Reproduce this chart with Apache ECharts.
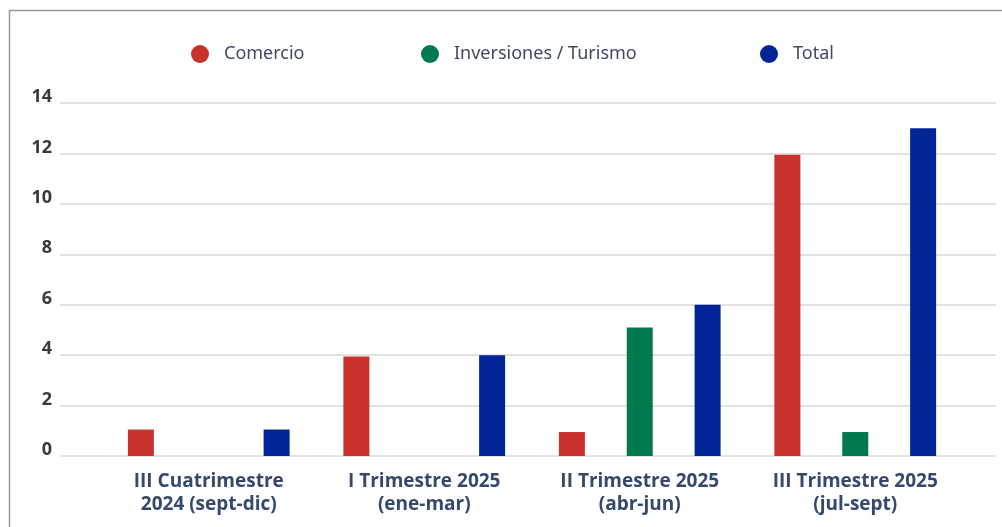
<!DOCTYPE html>
<html>
<head>
<meta charset="utf-8">
<script src="https://cdn.jsdelivr.net/npm/echarts@6/dist/echarts.min.js"></script>
<style>
html,body{margin:0;padding:0;background:#fff;}
#chart{width:1002px;height:527px;}
</style>
</head>
<body>
<div id="chart"></div>
<script>
const categories = [
  "III Cuatrimestre\n2024 (sept-dic)",
  "I Trimestre 2025\n(ene-mar)",
  "II Trimestre 2025\n(abr-jun)",
  "III Trimestre 2025\n(jul-sept)"
];
const comercio = [1.05, 3.95, 0.95, 11.95];
const inversiones = [null, null, 5.1, 0.95];
const total = [1.05, 4, 6, 13];
const yTicks = { min: 0, max: 14, interval: 2 };

const chart = echarts.init(document.getElementById('chart'));
const legendText = { color: '#3d4a6b', fontSize: 18, fontFamily: 'Noto Sans', padding: [0, 0, 0, 10] };
function legendAt(name, left) {
  return {
    data: [name], left: left, top: 40, icon: 'circle', itemWidth: 18, itemHeight: 18,
    textStyle: legendText, selectedMode: false
  };
}
chart.setOption({
  animation: false,
  backgroundColor: '#fff',
  graphic: [{
    type: 'rect', silent: true, z: 100,
    shape: { x: 9.5, y: 10.5, width: 1200, height: 700 },
    style: { fill: 'none', stroke: '#9a9a9a', lineWidth: 1.5 }
  }],
  legend: [
    legendAt('Comercio', 186),
    legendAt('Inversiones / Turismo', 416),
    legendAt('Total', 755)
  ],
  grid: [
    { left: 60, right: 6, top: 103, bottom: 71 },
    { left: 101, right: 39, top: 103, bottom: 71 }
  ],
  xAxis: [
    { gridIndex: 0, type: 'value', show: false, min: 0, max: 1 },
    {
      gridIndex: 1, type: 'category', data: categories,
      axisLine: { show: false }, axisTick: { show: false },
      axisLabel: {
        margin: 14, color: '#34496e', fontSize: 19, fontWeight: 'bold',
        fontFamily: 'Open Sans', lineHeight: 23, interval: 0
      }
    }
  ],
  yAxis: [
    {
      gridIndex: 0, type: 'value', min: yTicks.min, max: yTicks.max, interval: yTicks.interval,
      axisLine: { show: false }, axisTick: { show: false },
      splitLine: { lineStyle: { color: '#e3e3e3', width: 2 } },
      axisLabel: {
        margin: 8, color: '#3a3a3a', fontSize: 18, fontWeight: 'bold', fontFamily: 'Open Sans',
        verticalAlign: 'bottom', lineHeight: 12
      }
    },
    { gridIndex: 1, type: 'value', min: yTicks.min, max: yTicks.max, interval: yTicks.interval, show: false, splitLine: { show: false } }
  ],
  series: [
    { name: 'Comercio', type: 'bar', xAxisIndex: 1, yAxisIndex: 1, data: comercio, barWidth: 26, barGap: '161%', itemStyle: { color: '#c9312d' } },
    { name: 'Inversiones / Turismo', type: 'bar', xAxisIndex: 1, yAxisIndex: 1, data: inversiones, barWidth: 26, barGap: '161%', itemStyle: { color: '#007a4d' } },
    { name: 'Total', type: 'bar', xAxisIndex: 1, yAxisIndex: 1, data: total, barWidth: 26, barGap: '161%', itemStyle: { color: '#002596' } }
  ]
});
</script>
</body>
</html>
